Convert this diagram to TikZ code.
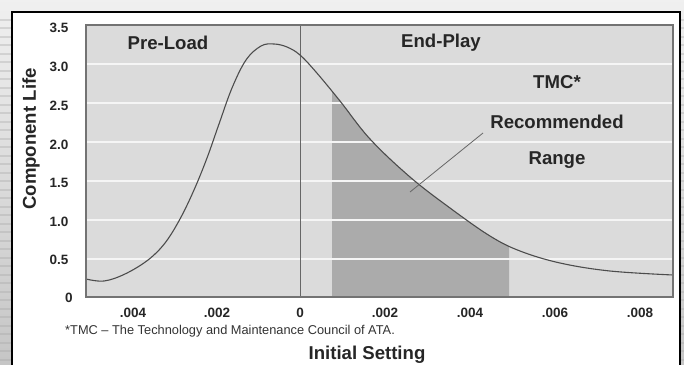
\documentclass[tikz,border=0pt]{standalone}
\usepackage{fontspec}
\setmainfont{Liberation Sans}
\begin{document}
\begin{tikzpicture}[x=1pt,y=-1pt,
  lbl/.style={font=\bfseries\fontsize{18.6}{18.6}\selectfont,text=black!85,inner sep=0pt},
  tick/.style={font=\bfseries\fontsize{13.5}{13.5}\selectfont,text=black!85,inner sep=0pt},
  grid/.style={draw=white!92!gray,line width=1.2pt},
  curve/.style={draw=black!70,line width=1.1pt}]
\def\lifecurve{(86,279) (104,281) (125,274) (148,260) (165,243) (180,219) (194,190) (207,158) (219,124) (232,88) (246,60) (261,46) (274,44) (287,47) (300,55) (316,72) (340,101) (370,139) (410,177) (450,208) (490,236) (520,251) (560,263) (610,271) (673,275)}
\useasboundingbox (0,0) rectangle (684,364);
\shade[top color=gray!12,bottom color=gray!45] (0,0) rectangle (684,364);
\foreach \yy in {20,28,37,45,54,62,71,79,88,96,105,113,122,130,139,147,156,164,173,181,190,198,207,215,224,232,241,249,258,266,275,283,292,300,309,317,326,334,343,351,360}
  {\draw[gray!70,opacity=0.35,line width=2pt] (0,\yy) -- (684,\yy);}
\draw[black,line width=2pt,fill=white] (12,12) rectangle (680,372);
% plot area
\fill[gray!28] (86,25) rectangle (673,297);
\begin{scope}
\clip (332,25) rectangle (509,297);
\fill[gray!66] plot[smooth,tension=0.6] coordinates {\lifecurve} -- (673,297) -- (86,297) -- cycle;
\end{scope}
\foreach \v in {64,103,142,181,220,259} {\draw[grid] (86,\v) -- (673,\v);}
\draw[black!60,line width=0.8pt] (300,25) -- (300,297);
\draw[curve] plot[smooth,tension=0.6] coordinates {\lifecurve};
\draw[black!55,line width=1.1pt] (86,25) rectangle (673,297);
% y ticks
\node[tick] (y35) at (59,28) {3.5};
\node[tick] (y30) at (59,67) {3.0};
\node[tick] (y25) at (59,106) {2.5};
\node[tick] (y20) at (59,145) {2.0};
\node[tick] (y15) at (59,183) {1.5};
\node[tick] (y10) at (59,222) {1.0};
\node[tick] (y05) at (59,260) {0.5};
\node[tick] (y0) at (69,298) {0};
% x ticks
\node[tick] (x1) at (133,313) {.004};
\node[tick] (x2) at (217,313) {.002};
\node[tick] (x3) at (300,313) {0};
\node[tick] (x4) at (385,313) {.002};
\node[tick] (x5) at (470,313) {.004};
\node[tick] (x6) at (555,313) {.006};
\node[tick] (x7) at (640,313) {.008};
% labels
\node[lbl] (pre) at (168,43) {Pre-Load};
\node[lbl] (end) at (441,43) {End-Play};
\node[lbl] (tmc) at (557,82) {TMC*};
\node[lbl] (rec) at (557,122) {Recommended};
\node[lbl] (rng) at (557,160) {Range};
\node[lbl,rotate=90] (yl) at (31,139) {Component Life};
\node[lbl] (xl) at (367,355) {Initial Setting};
\node[inner sep=0pt,anchor=west,font=\fontsize{12.8}{12.8}\selectfont,text=black!80] (fn) at (65,331) {*TMC -- The Technology and Maintenance Council of ATA.};
\coordinate (pA) at (410,192);
\coordinate (pB) at (483,133);
\draw[black!60,line width=0.8pt] (pA) -- (pB);
\end{tikzpicture}
\end{document}
